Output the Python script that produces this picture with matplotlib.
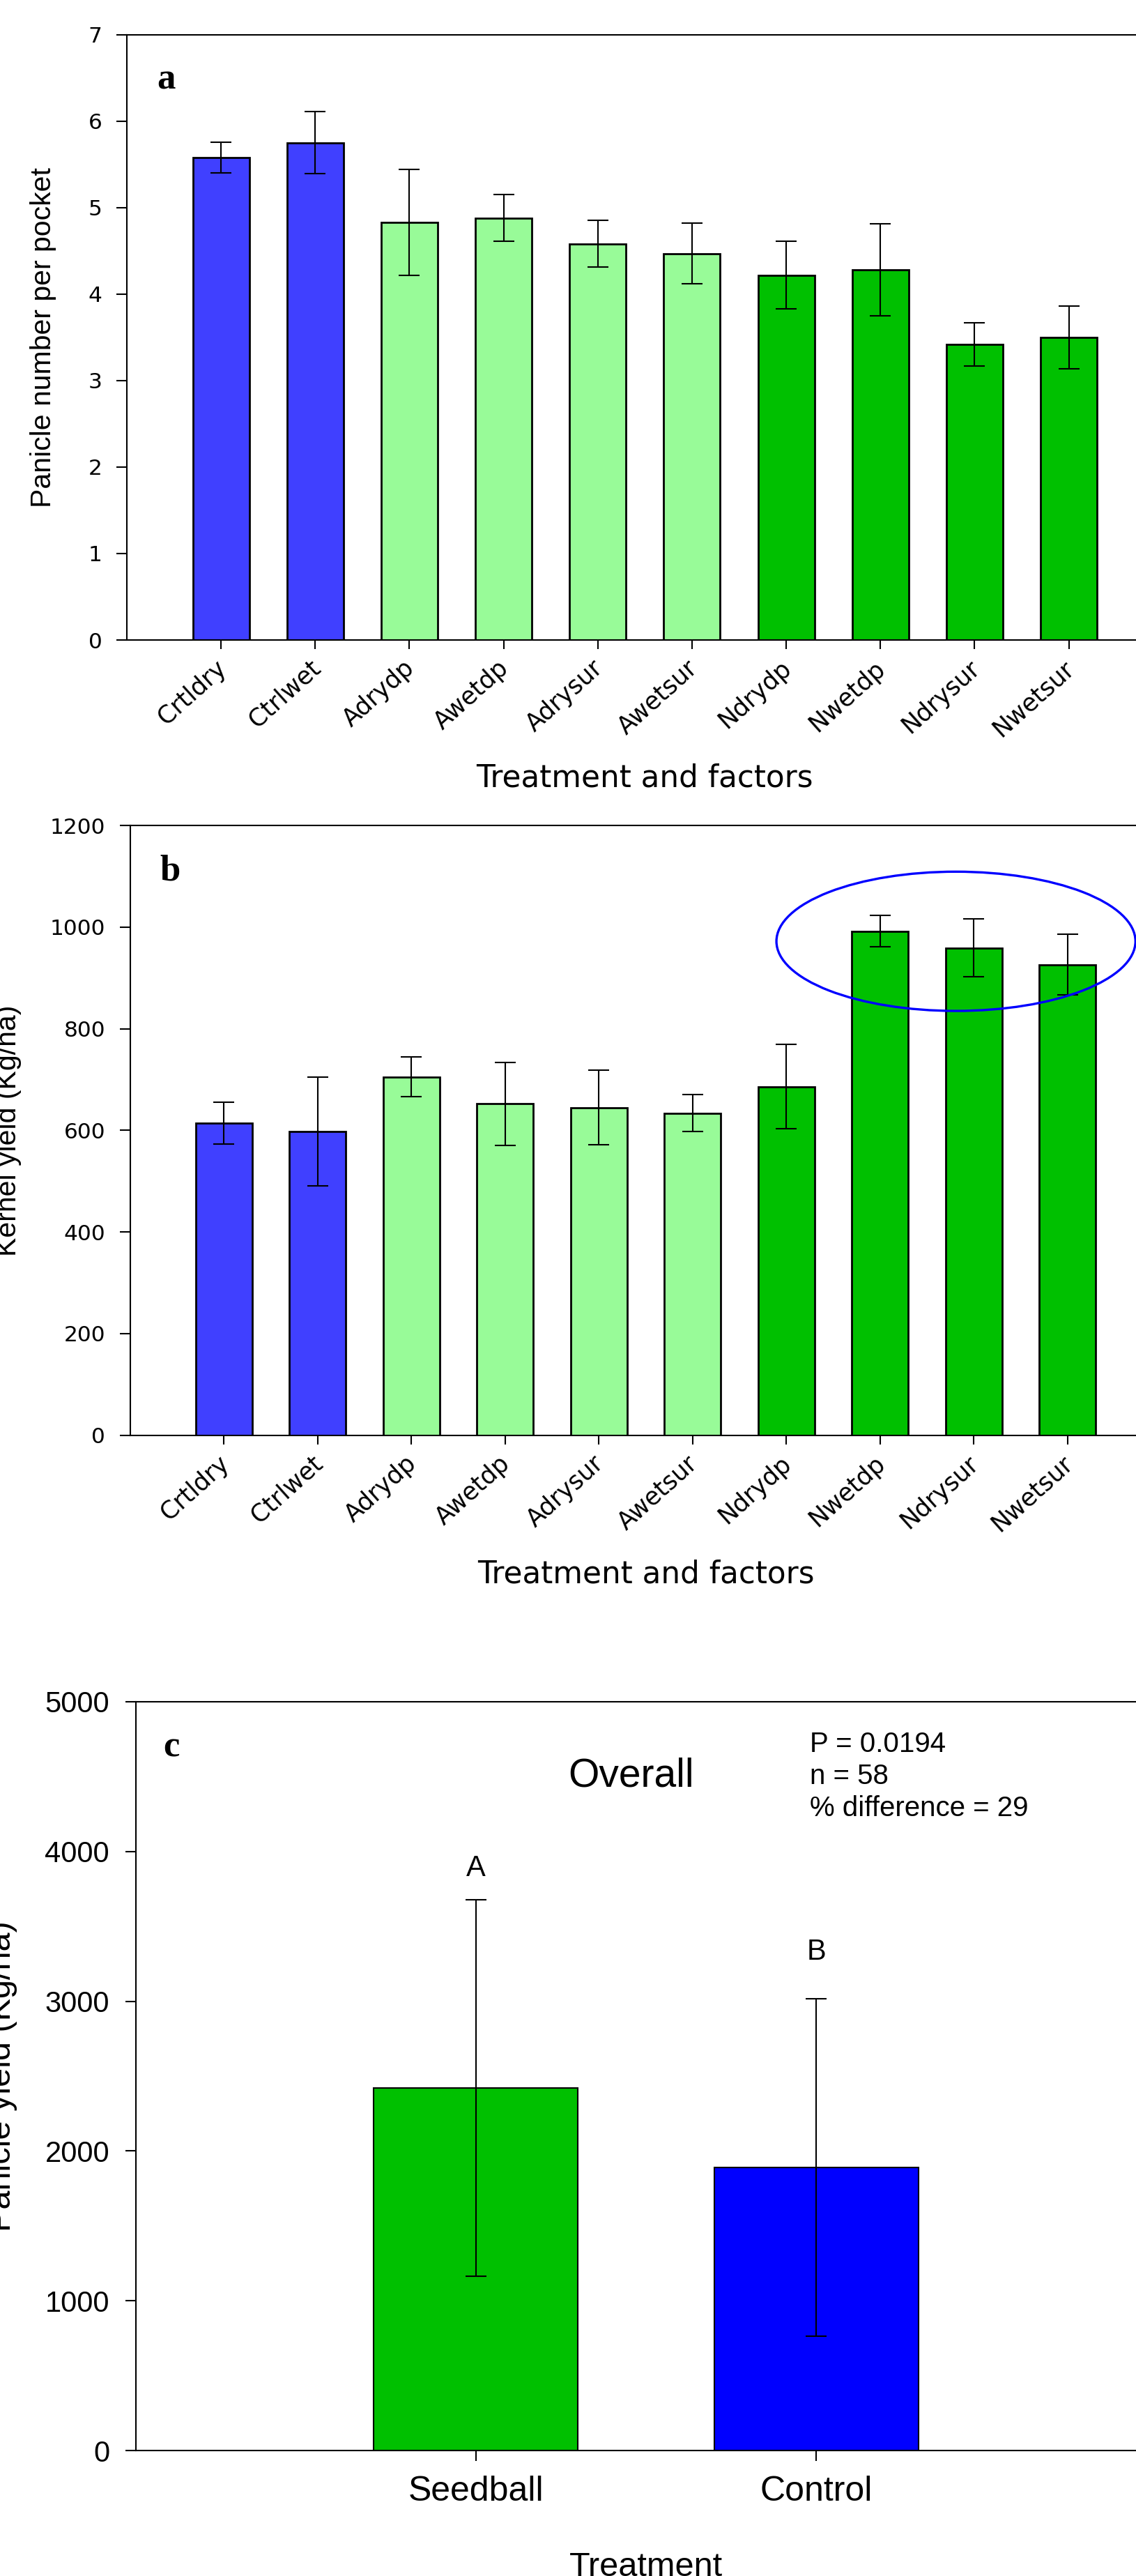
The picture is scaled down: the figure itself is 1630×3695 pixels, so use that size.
import matplotlib
matplotlib.use("Agg")
import matplotlib.pyplot as plt
import matplotlib.patches as mpatches
import matplotlib.transforms as mtransforms
import numpy as np

# ─── DATA ─────────────────────────────────────────────────────────────────────

treatments = ["Crtldry", "Ctrlwet", "Adrydp", "Awetdp", "Adrysur",
              "Awetsur", "Ndrydp", "Nwetdp", "Ndrysur", "Nwetsur"]
groups = ["ctrl", "ctrl", "A", "A", "A", "A", "N", "N", "N", "N"]

panicle_mean = [5.58, 5.75, 4.83, 4.88, 4.58, 4.47, 4.22, 4.28, 3.42, 3.50]
panicle_se = [0.18, 0.36, 0.61, 0.27, 0.27, 0.35, 0.39, 0.53, 0.25, 0.36]

kernel_mean = [614, 598, 705, 652, 645, 634, 686, 992, 959, 926]
kernel_se = [41, 107, 39, 82, 73, 36, 83, 31, 57, 60]

overall_groups = ["Seedball", "Control"]
overall_mean = [2420, 1889]
overall_se = [1258, 1126]
overall_letters = ["A", "B"]
letter_y = [3838, 3279]

stats_lines = ["P = 0.0194", "n = 58", "% difference = 29"]

# ─── STYLE ────────────────────────────────────────────────────────────────────

BLUE = "#4040FF"
LIGHT_GREEN = "#98FB98"
GREEN = "#00C000"
PURE_BLUE = "#0000FF"
group_color = {"ctrl": BLUE, "A": LIGHT_GREEN, "N": GREEN}

W, H = 1631, 3695
fig = plt.figure(figsize=(W / 100, H / 100), dpi=100)
fig.patch.set_facecolor("white")


def box(left, top, right, bottom):
    # pixel box -> figure fraction [l, b, w, h]
    return [left / W, 1 - bottom / H, (right - left) / W, (bottom - top) / H]


def frame(ax, ytick_len, ytick_pad, xtick_len, xtick_pad, font, ysize, xsize):
    for side in ("left", "top", "bottom"):
        ax.spines[side].set_linewidth(1.5)
    ax.spines["right"].set_visible(False)
    ax.tick_params(axis="y", direction="out", length=ytick_len, width=1.5,
                   pad=ytick_pad, labelsize=ysize)
    ax.tick_params(axis="x", direction="out", length=xtick_len, width=1.5,
                   pad=xtick_pad, labelsize=xsize)
    for lbl in ax.get_yticklabels() + ax.get_xticklabels():
        lbl.set_fontfamily(font)


def treatment_panel(ax, means, errs, ymax, ystep, ylabel, letter, ylab_x):
    x = np.arange(1, len(treatments) + 1)
    colors = [group_color[g] for g in groups]
    ax.bar(x, means, width=0.6, color=colors, edgecolor="black", linewidth=2,
           yerr=errs, capsize=11,
           error_kw=dict(elinewidth=1.5, capthick=1.5, ecolor="black"),
           zorder=2)
    ax.set_xlim(0, 11)
    ax.set_ylim(0, ymax)
    ax.set_yticks(np.arange(0, ymax + ystep / 2, ystep))
    ax.set_xticks(x)
    ax.set_xticklabels(treatments, rotation=42, ha="right", va="top")
    frame(ax, 11, 14.5, 9.5, 7, "DejaVu Sans", 22.5, 25)
    shift = mtransforms.ScaledTranslation(14 / 100, 0, fig.dpi_scale_trans)
    for lbl in ax.get_xticklabels():
        lbl.set_transform(lbl.get_transform() + shift)
    ax.text(0.5, -0.242, "Treatment and factors", transform=ax.transAxes,
            ha="center", va="baseline", fontsize=31.5, family="DejaVu Sans")
    ax.text(ylab_x, 0.5, ylabel, transform=ax.transAxes, rotation=90,
            ha="right", va="center", fontsize=29.5, family="Liberation Sans")
    ax.text(0.029, 0.91, letter, transform=ax.transAxes, ha="left",
            va="baseline", fontsize=38, fontweight="bold",
            family="Liberation Serif")


# ── (a) panicle number ────────────────────────────────────────────────────────
ax_a = fig.add_axes(box(182, 49.7, 182 + 11 * 135.15, 918))
treatment_panel(ax_a, panicle_mean, panicle_se, 7, 1,
                "Panicle number per pocket", "a", -0.068)

# ── (b) kernel yield ──────────────────────────────────────────────────────────
ax_b = fig.add_axes(box(186.7, 1184, 186.7 + 11 * 134.5, 2058.7))
treatment_panel(ax_b, kernel_mean, kernel_se, 1200, 200,
                "Kernel yield (Kg/ha)", "b", -0.105)
ax_b.add_patch(mpatches.Ellipse((8.81, 972), 3.83, 274, fill=False,
                                edgecolor=PURE_BLUE, linewidth=2.4, zorder=3))

# ── (c) overall panicle yield ─────────────────────────────────────────────────
ax_c = fig.add_axes(box(194.6, 2441, 194.6 + 3 * 488.3, 3515))
xc = np.arange(1, len(overall_groups) + 1)
ax_c.bar(xc, overall_mean, width=0.6, color=[GREEN, PURE_BLUE],
         edgecolor="black", linewidth=1.5, yerr=overall_se, capsize=11,
         error_kw=dict(elinewidth=1.5, capthick=1.5, ecolor="black"), zorder=2)
ax_c.set_xlim(0, 3)
ax_c.set_ylim(0, 5000)
ax_c.set_yticks(np.arange(0, 5001, 1000))
ax_c.set_xticks(xc)
ax_c.set_xticklabels(overall_groups)
frame(ax_c, 11, 16, 11, 15, "Liberation Sans", 30, 36)

for xi, lt, ly in zip(xc, overall_letters, letter_y):
    ax_c.text(xi, ly, lt, ha="center", va="baseline", fontsize=30,
              family="Liberation Sans")

ax_c.text(1.457, 4433, "Overall", ha="center", va="baseline", fontsize=41,
          family="Liberation Sans")
for line, ly in zip(stats_lines, [4665, 4449, 4237]):
    ax_c.text(1.981, ly, line, ha="left", va="baseline", fontsize=29,
              family="Liberation Sans")

ax_c.text(0.5, -0.168, "Treatment", transform=ax_c.transAxes, ha="center",
          va="baseline", fontsize=35, family="Liberation Sans")
ax_c.text(-0.116, 0.5, "Panicle yield (Kg/ha)", transform=ax_c.transAxes,
          rotation=90, ha="right", va="center", fontsize=35,
          family="Liberation Sans")
ax_c.text(0.0274, 0.927, "c", transform=ax_c.transAxes, ha="left",
          va="baseline", fontsize=38, fontweight="bold",
          family="Liberation Serif")

fig.savefig("out.png", dpi=100, facecolor="white")
plt.close(fig)
